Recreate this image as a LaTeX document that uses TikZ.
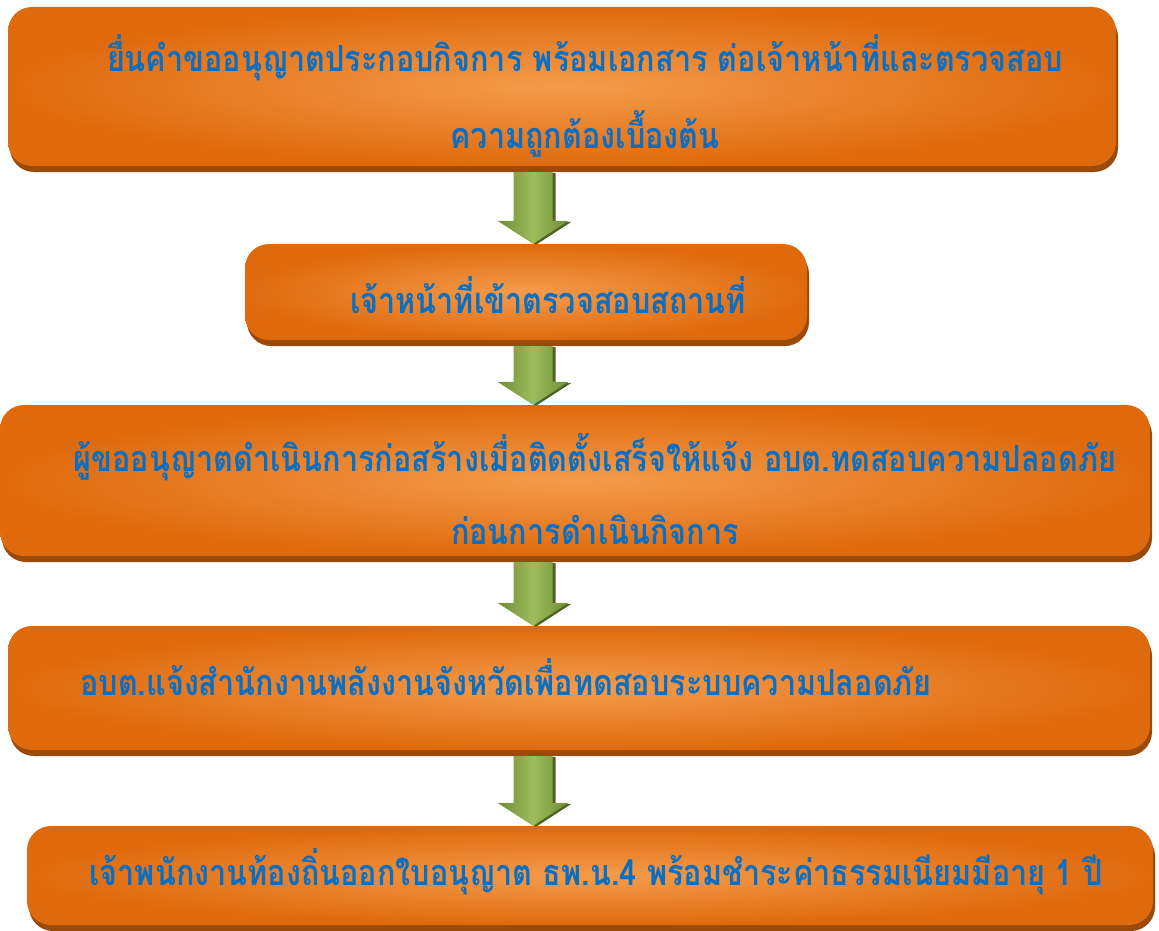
\documentclass[tikz,border=0pt]{standalone}
\usepackage{fontspec}
\newfontfamily\thaifont[Script=Thai,FakeStretch=0.85]{Loma}
\usetikzlibrary{calc,shadows}
\definecolor{boxlight}{HTML}{F49C4C}
\definecolor{boxdark}{HTML}{DF6A0D}
\definecolor{boxshadow}{HTML}{9A4A0A}
\definecolor{arrowlight}{HTML}{9DBD5B}
\definecolor{arrowdark}{HTML}{6F8C36}
\definecolor{arrowshadow}{HTML}{4F6228}
\definecolor{textblue}{HTML}{0A6FC2}
\tikzset{
    every node/.style={font=\thaifont\bfseries\fontsize{36}{43}\selectfont},
    main node/.style={shape=rectangle, rounded corners=24pt, inner sep=0pt,
        inner color=boxlight, outer color=boxdark,
        drop shadow={shadow xshift=2pt, shadow yshift=-6pt, fill=boxshadow, opacity=1}},
    step text/.style={text=textblue, align=center, inner sep=0pt},
    flow arrow/.style={left color=arrowdark, right color=arrowdark, middle color=arrowlight,
        drop shadow={shadow xshift=3pt, shadow yshift=-1pt, fill=arrowshadow, opacity=1}}
}

\begin{document}
\begin{tikzpicture}[x=1pt,y=-1pt]
    \useasboundingbox (0,0) rectangle (1159,931);

    % steps
    \node[main node, minimum width=1108pt, minimum height=159pt] (1) at (562,86.5) {};
    \node[main node, minimum width=562pt, minimum height=96pt] (2) at (526,292) {};
    \node[main node, minimum width=1150pt, minimum height=151pt] (3) at (575,480.5) {};
    \node[main node, minimum width=1142pt, minimum height=124pt] (4) at (579,688) {};
    \node[main node, minimum width=1126pt, minimum height=99pt] (5) at (590,875.5) {};

    \node[step text] (t1) at (585,96) {ยื่นคำขออนุญาตประกอบกิจการ พร้อมเอกสาร ต่อเจ้าหน้าที่และตรวจสอบ\\[28pt]ความถูกต้องเบื้องต้น};
    \node[step text] (t2) at (548,295) {เจ้าหน้าที่เข้าตรวจสอบสถานที่};
    \node[step text] (t3) at (595,489) {ผู้ขออนุญาตดำเนินการก่อสร้างเมื่อติดตั้งเสร็จให้แจ้ง อบต.ทดสอบความปลอดภัย\\[30pt]ก่อนการดำเนินกิจการ};
    \node[step text, anchor=west] (t4) at (80,677) {อบต.แจ้งสำนักงานพลังงานจังหวัดเพื่อทดสอบระบบความปลอดภัย};
    \node[step text] (t5) at (596,872) {เจ้าพนักงานท้องถิ่นออกใบอนุญาต ธพ.น.4 พร้อมชำระค่าธรรมเนียมมีอายุ 1 ปี};

    % arrows between the steps
    \coordinate (axis) at (533,0);
    \foreach \a/\b in {1/2,2/3,3/4,4/5}
        \path[flow arrow] let \p1=(\a.south -| axis), \p2=(\b.north -| axis) in
            (\x1-19.5pt,\y1-6pt) -- (\x1+19.5pt,\y1-6pt) -- (\x1+19.5pt,\y2+23pt)
            -- (\x1+35.5pt,\y2+23pt) -- (\x1,\y2) -- (\x1-35.5pt,\y2+23pt)
            -- (\x1-19.5pt,\y2+23pt) -- cycle;
\end{tikzpicture}
\end{document}
